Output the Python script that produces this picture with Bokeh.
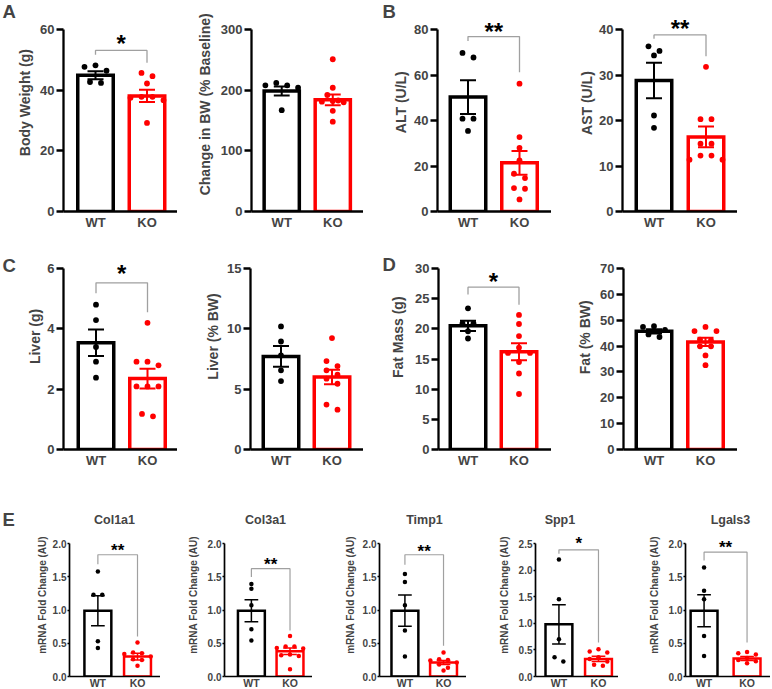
import math
from bokeh.plotting import figure
from bokeh.models import Range1d, FixedTicker, Label
from bokeh.layouts import row, column
from bokeh.embed import file_html
from bokeh.resources import INLINE

FONT = "Liberation Sans"
BLACK = "#000000"
RED = "#ff0000"
GRAY = "#a0a0a0"

groups = ["WT", "KO"]

# ---------------- data ----------------
# A: Body weight (g)
bw_wt = [46.4, 47.7, 48.2, 42.4, 42.7]
bw_ko = [45.7, 44.6, 42.2, 37.8, 37.8, 37.5, 36.7, 29.2]
bw_mean = [44.9, 38.1]
bw_sem = [1.3, 2.0]
bw_ticks = [0, 20, 40, 60]
bw_sig = {"text": "*", "bar": 53.1, "leg_wt": 51.7, "leg_ko": 49.0, "star": 57.2}

# A: Change in BW (% Baseline)
cbw_wt = [212, 208, 208, 204, 167]
cbw_ko = [251, 204, 192, 183, 182, 181, 180, 166, 148]
cbw_mean = [198.7, 184.0]
cbw_sem = [7.5, 9.0]
cbw_ticks = [0, 100, 200, 300]

# B: ALT (U/L)
alt_wt = [69.7, 67.7, 40.8, 40.8, 35.4]
alt_ko = [56.2, 32.7, 28.0, 22.5, 16.6, 14.7, 10.3, 10.0, 5.3]
alt_mean = [50.3, 21.4]
alt_sem = [7.4, 5.2]
alt_ticks = [0, 20, 40, 60, 80]
alt_sig = {"text": "**", "bar": 76.9, "leg_wt": 74.9, "leg_ko": 61.2, "star": 81.5}

# B: AST (U/L)
ast_wt = [36.3, 35.3, 34.3, 21.1, 18.4]
ast_ko = [31.8, 20.3, 20.3, 14.9, 14.9, 12.3, 12.3, 11.4, 11.4]
ast_mean = [28.8, 16.4]
ast_sem = [3.9, 2.3]
ast_ticks = [0, 10, 20, 30, 40]
ast_sig = {"text": "**", "bar": 38.8, "leg_wt": 37.95, "leg_ko": 34.1, "star": 41.4}

# C: Liver (g)
liv_wt = [4.8, 4.29, 3.4, 2.91, 2.38]
liv_ko = [4.2, 2.91, 2.91, 2.79, 2.09, 2.09, 2.09, 1.18, 1.1]
liv_mean = [3.54, 2.35]
liv_sem = [0.44, 0.33]
liv_ticks = [0, 2, 4, 6]
liv_sig = {"text": "*", "bar": 5.525, "leg_wt": 5.18, "leg_ko": 4.55, "star": 6.0}

# C: Liver (% BW)
lbw_wt = [10.2, 8.95, 7.8, 6.56, 5.67]
lbw_ko = [9.23, 7.33, 6.91, 6.56, 6.2, 5.87, 5.45, 3.72, 3.3]
lbw_mean = [7.71, 6.0]
lbw_sem = [0.86, 0.6]
lbw_ticks = [0, 5, 10, 15]

# D: Fat Mass (g)
fm_wt = [23.4, 20.9, 20.9, 19.6, 18.4]
fm_ko = [22.3, 20.8, 18.8, 16.9, 16.0, 16.0, 14.5, 12.6, 9.2]
fm_mean = [20.5, 16.2]
fm_sem = [0.85, 1.4]
fm_ticks = [0, 5, 10, 15, 20, 25, 30]
fm_sig = {"text": "*", "bar": 26.9, "leg_wt": 25.7, "leg_ko": 24.0, "star": 28.7}

# D: Fat (% BW)
fp_wt = [47.7, 47.4, 46.3, 44.5, 43.5]
fp_ko = [47.4, 45.8, 45.8, 42.5, 42.2, 39.9, 39.9, 36.4, 32.6]
fp_mean = [45.7, 41.6]
fp_sem = [0.8, 1.6]
fp_ticks = [0, 10, 20, 30, 40, 50, 60, 70]

# E: mRNA fold change (AU)
mrna_ticks = [0.0, 0.5, 1.0, 1.5, 2.0]
spp_ticks = [0.0, 0.5, 1.0, 1.5, 2.0, 2.5]

col1_wt = [1.58, 1.23, 1.23, 0.53, 0.43]
col1_ko = [0.51, 0.36, 0.35, 0.34, 0.30, 0.26, 0.25, 0.16]
col1_mean = [0.99, 0.30]
col1_sem = [0.225, 0.05]
col1_sig = {"text": "**", "bar": 1.831, "leg_wt": 1.687, "leg_ko": 0.601, "star": 1.96}

col3_wt = [1.39, 1.32, 1.07, 0.71, 0.54]
col3_ko = [0.61, 0.45, 0.45, 0.43, 0.42, 0.33, 0.32, 0.31, 0.11]
col3_mean = [0.99, 0.38]
col3_sem = [0.165, 0.05]
col3_sig = {"text": "**", "bar": 1.621, "leg_wt": 1.497, "leg_ko": 0.691, "star": 1.746}

timp_wt = [1.54, 1.42, 1.07, 0.69, 0.30]
timp_ko = [0.36, 0.26, 0.25, 0.24, 0.21, 0.18, 0.13, 0.09]
timp_mean = [0.99, 0.21]
timp_sem = [0.235, 0.03]
timp_sig = {"text": "**", "bar": 1.831, "leg_wt": 1.682, "leg_ko": 0.463, "star": 1.936}

spp_wt = [2.2, 1.45, 0.70, 0.36, 0.28]
spp_ko = [0.51, 0.47, 0.45, 0.36, 0.33, 0.28, 0.22, 0.20]
spp_mean = [0.98, 0.33]
spp_sem = [0.37, 0.05]
spp_sig = {"text": "*", "bar": 2.382, "leg_wt": 2.308, "leg_ko": 0.64, "star": 2.575}

lgals_wt = [1.64, 1.29, 1.16, 0.61, 0.31]
lgals_ko = [0.37, 0.35, 0.33, 0.28, 0.25, 0.23, 0.20]
lgals_mean = [0.99, 0.27]
lgals_sem = [0.24, 0.03]
lgals_sig = {"text": "**", "bar": 1.870, "leg_wt": 1.746, "leg_ko": 0.512, "star": 2.004}

# ---------------- styles ----------------
TOP = dict(tick_px=13, xtick_font="13px", star_font=24, dot=5.8,
           spread=11, bar_lw=3.5, axis_lw=2.3, err_lw=2.0, cap=8, bar_w=39, tick_out=7,
           tick_standoff=2, x_standoff=3, br_lw=1.3, lb_extra=2)
BOT = dict(tick_px=10, xtick_font="10.5px", star_font=17, dot=4.5,
           spread=9, bar_lw=2.5, axis_lw=1.7, err_lw=1.5, cap=7, bar_w=30, tick_out=2,
           tick_standoff=1, x_standoff=0, br_lw=1.2, lb_extra=1)

MID = 0.3465      # em-box middle above the baseline (Liberation Sans)
STAR_UP = 0.2285  # asterisk ink centre above the em-box middle


def swarm(vals, ppy, d, s):
    # points closer (in pixels) than one dot to the top point of their group share a row
    order = sorted(range(len(vals)), key=lambda i: -vals[i])
    offs = [0.0] * len(vals)
    clusters, cur = [], [order[0]]
    for i in order[1:]:
        if (vals[cur[0]] - vals[i]) * ppy < d:
            cur.append(i)
        else:
            clusters.append(cur)
            cur = [i]
    clusters.append(cur)
    for c in clusters:
        k = len(c)
        if k % 2:
            pos = [0] + [v for j in range(1, k // 2 + 1) for v in (-j, j)]
        else:
            pos = [v for j in range(k // 2) for v in (-(j + 0.5), j + 0.5)]
        for i, pp in zip(c, pos):
            offs[i] = pp * s
    return offs


def tick_text(t, fmt):
    return f"{t:.1f}" if fmt else f"{t:g}"


def text_w(s, fs):
    return sum(0.278 if ch == "." else 0.556 for ch in s) * fs


def panel_x0(spec, g, st):
    fmt = spec.get("fmt", False)
    w = max(text_w(tick_text(t, fmt), st["tick_px"]) for t in spec["ticks"])
    need = st["tick_out"] + st["tick_standoff"] + w + st["lb_extra"]
    return int(math.floor(g["axis"] - need))


def make_panel(spec, g, st, x0):
    y0, y1 = g["fig_y"]
    ax, fr = g["axis"], g["right"]
    cw, ck = g["centers"]
    zero, tt = g["zero"], g["top_tick"]
    ticks = spec["ticks"]
    fmt = spec.get("fmt", False)
    topv = ticks[-1]
    ppx = ck - cw
    ppy = (zero - tt) / topv

    def X(px):
        return 1 + (px - cw) / ppx

    def Y(py):
        return (zero - py) / ppy

    p = figure(width=int(fr - x0), height=y1 - y0,
               x_range=Range1d(X(ax), X(fr)), y_range=Range1d(0, Y(y0)),
               output_backend="svg", toolbar_location=None,
               min_border_left=int(ax - x0), min_border_right=0,
               min_border_top=0, min_border_bottom=y1 - zero)
    p.outline_line_color = None
    p.xgrid.grid_line_color = None
    p.ygrid.grid_line_color = None
    p.background_fill_color = "white"
    p.border_fill_color = "white"

    colors = [BLACK, RED]
    bw = (st["bar_w"] - st["bar_lw"]) / ppx
    p.vbar(x=[1, 2], top=spec["mean"], width=bw, bottom=0, fill_color="white",
           line_color=colors, line_width=st["bar_lw"], line_join="miter")

    for gi, (vals, col) in enumerate([(spec["wt"], BLACK), (spec["ko"], RED)]):
        offs = swarm(vals, ppy, st["dot"], st["spread"])
        xs = [gi + 1 + o / ppx for o in offs]
        p.scatter(xs, vals, size=st["dot"], fill_color=col, line_color=None)

    m, s = spec["mean"], spec["sem"]
    cap = st["cap"] / ppx
    p.segment(x0=[1, 2], y0=[m[0] - s[0], m[1] - s[1]], x1=[1, 2], y1=[m[0] + s[0], m[1] + s[1]],
              line_color=colors, line_width=st["err_lw"])
    for sign in (-1, 1):
        p.segment(x0=[1 - cap, 2 - cap], x1=[1 + cap, 2 + cap],
                  y0=[m[0] + sign * s[0], m[1] + sign * s[1]],
                  y1=[m[0] + sign * s[0], m[1] + sign * s[1]],
                  line_color=colors, line_width=st["err_lw"])

    sig = spec.get("sig")
    if sig:
        p.line([1, 1, 2, 2], [sig["leg_wt"], sig["bar"], sig["bar"], sig["leg_ko"]],
               line_color=GRAY, line_width=st["br_lw"])
        fs = st["star_font"]
        p.add_layout(Label(x=1.5, y=sig["star"] - STAR_UP * fs / ppy, text=sig["text"],
                           text_font=FONT, text_font_style="bold", text_font_size=f"{fs}px",
                           text_align="center", text_baseline="middle", text_color=BLACK))

    if spec.get("title"):
        tx, ty = g["title_at"]
        p.add_layout(Label(x=X(tx), y=Y(ty), text=spec["title"], text_font=FONT,
                           text_font_style="bold", text_font_size="12.5px",
                           text_align="center", text_baseline="middle"))

    ya = p.yaxis[0]
    ya.ticker = FixedTicker(ticks=ticks)
    ya.bounds = (0, topv)
    ya.major_label_text_font = FONT
    ya.major_label_text_font_style = "bold"
    ya.major_label_text_font_size = f"{st['tick_px']}px"
    ya.major_label_standoff = st["tick_standoff"]
    ya.major_tick_in = 0
    ya.major_tick_out = st["tick_out"]
    ya.minor_tick_in = 0
    ya.minor_tick_out = 0
    ya.minor_tick_line_color = None
    ya.axis_line_width = st["axis_lw"]
    ya.major_tick_line_width = st["axis_lw"]
    ya.major_label_overrides = {t: tick_text(t, fmt) for t in ticks}

    xa = p.xaxis[0]
    xa.ticker = FixedTicker(ticks=[1, 2])
    xa.major_label_overrides = {1: groups[0], 2: groups[1]}
    xa.major_tick_in = 0
    xa.major_tick_out = 0
    xa.minor_tick_in = 0
    xa.minor_tick_out = 0
    xa.minor_tick_line_color = None
    xa.axis_line_width = st["axis_lw"]
    xa.major_label_text_font = FONT
    xa.major_label_text_font_style = "bold"
    xa.major_label_text_font_size = st["xtick_font"]
    xa.major_label_standoff = st["x_standoff"]
    return p


def make_strip(x0, x1, y0, y1, texts):
    p = figure(width=int(x1 - x0), height=y1 - y0, x_range=Range1d(x0, x1), y_range=Range1d(y1, y0),
               x_axis_location=None, y_axis_location=None, output_backend="svg",
               toolbar_location=None, min_border=0)
    p.outline_line_color = None
    p.background_fill_color = "white"
    p.border_fill_color = "white"
    p.grid.grid_line_color = None
    p.grid.visible = False
    for t in texts:
        if x0 <= t["x"] < x1:
            p.add_layout(Label(x=t["x"], y=t["y"], text=t["text"], angle=t.get("angle", 0),
                               text_font=FONT, text_font_style="bold", text_font_size=f"{t['size']}px",
                               text_align=t["align"], text_baseline="middle"))
    return p


R1 = dict(fig_y=(0, 250), zero=211, top_tick=29)
R2 = dict(fig_y=(250, 500), zero=449, top_tick=268)
R3 = dict(fig_y=(500, 705), zero=676, top_tick=543)
VERT = math.pi / 2


def ylab(text, cap_left, y, size):
    return dict(text=text, x=cap_left + (0.716 - MID) * size, y=y, size=size, angle=VERT, align="center")


def letter(text, x, baseline):
    size = 18.5
    return dict(text=text, x=x, y=baseline - MID * size, size=size, align="left")


specs_top = [
    (dict(wt=bw_wt, ko=bw_ko, mean=bw_mean, sem=bw_sem, ticks=bw_ticks, sig=bw_sig),
     dict(R1, axis=63, right=177, centers=(95, 146.5))),
    (dict(wt=cbw_wt, ko=cbw_ko, mean=cbw_mean, sem=cbw_sem, ticks=cbw_ticks),
     dict(R1, axis=250, right=363, centers=(280.5, 332))),
    (dict(wt=alt_wt, ko=alt_ko, mean=alt_mean, sem=alt_sem, ticks=alt_ticks, sig=alt_sig),
     dict(R1, axis=437, right=551, centers=(467.5, 519))),
    (dict(wt=ast_wt, ko=ast_ko, mean=ast_mean, sem=ast_sem, ticks=ast_ticks, sig=ast_sig),
     dict(R1, axis=622, right=737, centers=(653.5, 705.5))),
]
texts_top = [
    letter("A", 2, 20), letter("B", 382, 20),
    ylab("Body Weight (g)", 19.3, 121, 14),
    ylab("Change in BW (% Baseline)", 199.3, 123, 14),
    ylab("ALT (U/L)", 395, 120.5, 14),
    ylab("AST (U/L)", 581.7, 121.5, 14),
]
specs_mid = [
    (dict(wt=liv_wt, ko=liv_ko, mean=liv_mean, sem=liv_sem, ticks=liv_ticks, sig=liv_sig),
     dict(R2, axis=63, right=177, centers=(95.5, 147))),
    (dict(wt=lbw_wt, ko=lbw_ko, mean=lbw_mean, sem=lbw_sem, ticks=lbw_ticks),
     dict(R2, axis=250, right=363, centers=(280.5, 331.5))),
    (dict(wt=fm_wt, ko=fm_ko, mean=fm_mean, sem=fm_sem, ticks=fm_ticks, sig=fm_sig),
     dict(R2, axis=438, right=551, centers=(467.5, 518.5))),
    (dict(wt=fp_wt, ko=fp_ko, mean=fp_mean, sem=fp_sem, ticks=fp_ticks),
     dict(R2, axis=623, right=737, centers=(653.5, 705))),
]
texts_mid = [
    letter("C", 2, 275), letter("D", 382, 274),
    ylab("Liver (g)", 29.3, 358, 14),
    ylab("Liver (% BW)", 207.3, 358, 14),
    ylab("Fat Mass (g)", 392.3, 359, 14),
    ylab("Fat (% BW)", 579, 359, 14),
]
ML = "mRNA Fold Change (AU)"
specs_bot = [
    (dict(title="Col1a1", wt=col1_wt, ko=col1_ko, mean=col1_mean, sem=col1_sem, ticks=mrna_ticks, sig=col1_sig, fmt=True),
     dict(R3, axis=67, right=160, centers=(96, 136.5), title_at=(113, 519))),
    (dict(title="Col3a1", wt=col3_wt, ko=col3_ko, mean=col3_mean, sem=col3_sem, ticks=mrna_ticks, sig=col3_sig, fmt=True),
     dict(R3, axis=222, right=312, centers=(249.5, 289), title_at=(264, 519))),
    (dict(title="Timp1", wt=timp_wt, ko=timp_ko, mean=timp_mean, sem=timp_sem, ticks=mrna_ticks, sig=timp_sig, fmt=True),
     dict(R3, axis=377, right=466, centers=(403, 442.5), title_at=(423, 519))),
    (dict(title="Spp1", wt=spp_wt, ko=spp_ko, mean=spp_mean, sem=spp_sem, ticks=spp_ticks, sig=spp_sig, fmt=True),
     dict(R3, axis=533, right=618, centers=(557, 597.5), title_at=(558, 519))),
    (dict(title="Lgals3", wt=lgals_wt, ko=lgals_ko, mean=lgals_mean, sem=lgals_sem, ticks=mrna_ticks, sig=lgals_sig, fmt=True),
     dict(R3, axis=683, right=770, centers=(702, 746), title_at=(729, 519))),
]
texts_bot = [
    letter("E", 2, 528),
    ylab(ML, 38.8, 610, 10),
    ylab(ML, 189, 610, 10),
    ylab(ML, 346.5, 610, 10),
    ylab(ML, 500, 610, 10),
    ylab(ML, 650, 610, 10),
]


def build_row(specs, texts, st, y0, y1):
    items = []
    cur = 0
    for spec, g in specs:
        x0 = panel_x0(spec, g, st)
        if x0 > cur:
            items.append(make_strip(cur, x0, y0, y1, texts))
        items.append(make_panel(spec, g, st, x0))
        cur = int(g["right"])
    if cur < 772:
        items.append(make_strip(cur, 772, y0, y1, texts))
    return row(*items)


row1 = build_row(specs_top, texts_top, TOP, 0, 250)
row2 = build_row(specs_mid, texts_mid, TOP, 250, 500)
row3 = build_row(specs_bot, texts_bot, BOT, 500, 705)
layout = column(row1, row2, row3)

open("out.html", "w").write(file_html(layout, INLINE))
